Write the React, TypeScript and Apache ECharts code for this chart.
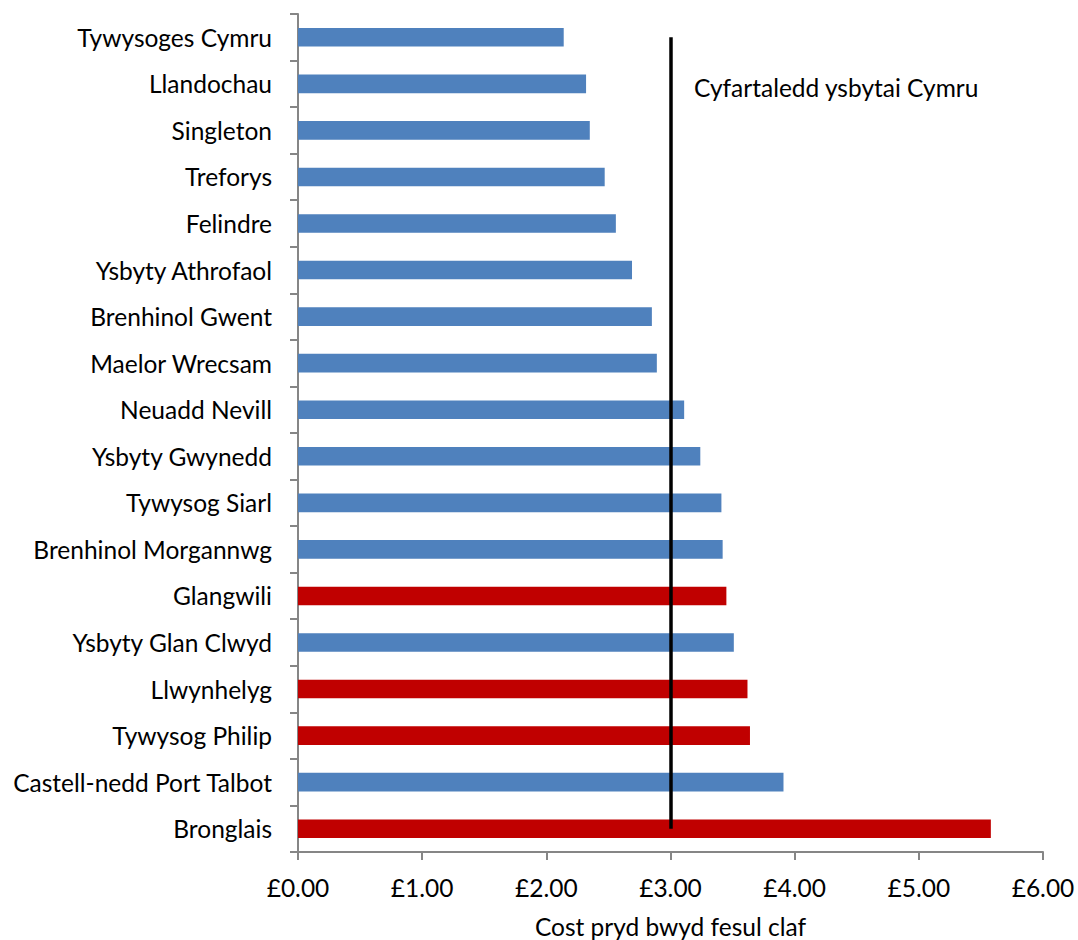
import React, { useEffect, useRef } from "react";
import * as echarts from "echarts";

const hospitals = [
  "Tywysoges Cymru",
  "Llandochau",
  "Singleton",
  "Treforys",
  "Felindre",
  "Ysbyty Athrofaol",
  "Brenhinol Gwent",
  "Maelor Wrecsam",
  "Neuadd Nevill",
  "Ysbyty Gwynedd",
  "Tywysog Siarl",
  "Brenhinol Morgannwg",
  "Glangwili",
  "Ysbyty Glan Clwyd",
  "Llwynhelyg",
  "Tywysog Philip",
  "Castell-nedd Port Talbot",
  "Bronglais",
];

const costPerPatient = [
  2.14, 2.32, 2.35, 2.47, 2.56, 2.69, 2.85, 2.89, 3.11, 3.24, 3.41, 3.42, 3.45,
  3.51, 3.62, 3.64, 3.91, 5.58,
];

const highlighted = ["Glangwili", "Llwynhelyg", "Tywysog Philip", "Bronglais"];

const walesAverage = 3.0;
const averageLabel = "Cyfartaledd ysbytai Cymru";
const xAxisTitle = "Cost pryd bwyd fesul claf";
const xTicks = [0, 1, 2, 3, 4, 5, 6];

const FONT = "Lato";
const FS = 24.5;

export default function App() {
  const ref = useRef<HTMLDivElement>(null);

  useEffect(() => {
    document.body.style.margin = "0";
    if (!ref.current) return;
    const chart = echarts.init(ref.current, undefined, { renderer: "svg" });
    chart.setOption({
      animation: false,
      textStyle: { fontFamily: FONT },
      grid: {
        left: 298,
        right: 35,
        top: 14,
        bottom: 88,
        containLabel: false,
        outerBoundsMode: "none",
      },
      xAxis: {
        type: "value",
        min: xTicks[0],
        max: xTicks[xTicks.length - 1],
        interval: 1,
        name: xAxisTitle,
        nameLocation: "middle",
        nameGap: 62,
        nameTextStyle: { fontSize: FS, color: "#000", fontFamily: FONT },
        axisLine: { show: true, lineStyle: { color: "#868686", width: 2 } },
        axisTick: { show: true, length: 8, lineStyle: { color: "#868686", width: 2 } },
        axisLabel: {
          fontSize: FS,
          color: "#000",
          margin: 23,
          fontFamily: FONT,
          formatter: (v: number) => "£" + v.toFixed(2),
        },
        splitLine: { show: false },
      },
      yAxis: {
        type: "category",
        data: hospitals,
        inverse: true,
        axisLine: { show: true, lineStyle: { color: "#868686", width: 2 } },
        axisTick: { show: true, length: 8, alignWithLabel: false, lineStyle: { color: "#868686", width: 2 } },
        axisLabel: { fontSize: FS, color: "#000", margin: 26, fontFamily: FONT },
        splitLine: { show: false },
      },
      series: [
        {
          type: "bar",
          barWidth: "40%",
          data: costPerPatient.map((v, i) => ({
            value: v,
            itemStyle: {
              color: highlighted.includes(hospitals[i]) ? "#C00000" : "#4F81BD",
            },
          })),
          markLine: {
            silent: true,
            symbol: ["none", "none"],
            label: { show: false },
            lineStyle: { color: "#000", width: 3.5, type: "solid" },
            data: [
              [
                { coord: [walesAverage, hospitals[0]] },
                { coord: [walesAverage, hospitals[hospitals.length - 1]] },
              ],
            ],
          },
        },
      ],
      graphic: [
        {
          type: "text",
          left: 694,
          top: 75,
          style: { text: averageLabel, fontSize: FS, fill: "#000", fontFamily: FONT },
        },
      ],
    });
    return () => chart.dispose();
  }, []);

  return <div ref={ref} style={{ width: 1078, height: 940 }} />;
}
